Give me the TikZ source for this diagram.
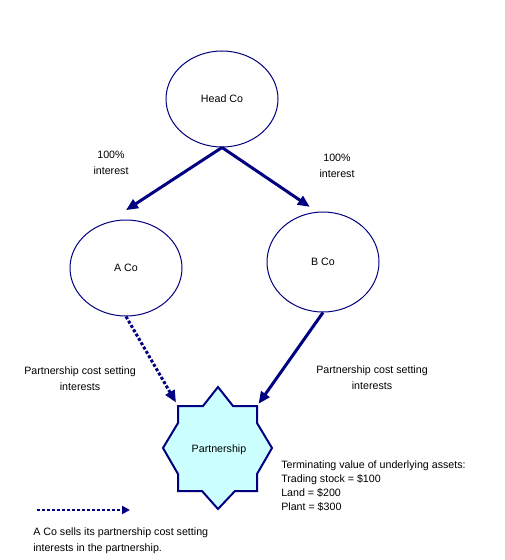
\documentclass[tikz,border=0pt]{standalone}
\usepackage{fontspec}
\setmainfont{Liberation Sans}
\usetikzlibrary{arrows.meta,shapes.geometric}
\definecolor{navy}{RGB}{0,0,128}
\definecolor{palecyan}{RGB}{204,255,255}

\begin{document}
\begin{tikzpicture}[x=0.75pt,y=-0.75pt,
  company/.style={ellipse,draw=navy,line width=0.75pt,minimum width=84pt,minimum height=72pt,
    inner sep=0pt,font=\fontsize{8}{10}\selectfont},
  own arrow/.style={navy,line width=2.25pt,-{Triangle[length=9pt,width=7.5pt]}},
  sell arrow/.style={own arrow,dash pattern=on 2.25pt off 1.5pt},
  lbl/.style={font=\fontsize{8}{12}\selectfont,align=center,inner sep=0pt}]

  \fill[white] (0,0) rectangle (505,560);
  \useasboundingbox (0,0) rectangle (505,560);

  % Companies
  \node[company] (head) at (222,99) {Head Co};
  \node[company] (aco) at (126,268) {A Co};
  \node[company,minimum height=75pt] (bco) at (323,262) {B Co};

  % Partnership star
  \filldraw[fill=palecyan,draw=navy,line width=1.5pt]
    (178,406) -- (203,406) -- (218,387) -- (233,406) -- (257,406) -- (257,423)
    -- (272,448) -- (257,474) -- (257,491) -- (235,491) -- (218,509) -- (202,491)
    -- (178,491) -- (178,474) -- (163,448) -- (178,423) -- cycle;
  \node[lbl] (part) at (219,450) {Partnership};
  \coordinate (part tl) at (178,406);
  \coordinate (part tr) at (257,406);

  % Ownership
  \draw[own arrow] (head.south) -- ([yshift=7pt]aco.north);
  \draw[own arrow] (head.south) -- ([yshift=4.5pt]bco.105);
  \node[lbl] (int a) at (111,163) {100\%\\interest};
  \node[lbl] (int b) at (337,166) {100\%\\interest};

  % Partnership interests
  \draw[sell arrow,shorten >=3pt] (aco.south) -- (part tl);
  \draw[own arrow,shorten >=2pt] (bco.south) -- (part tr);
  \node[lbl] (pcs a) at (80,379) {Partnership cost setting\\interests};
  \node[lbl] (pcs b) at (372,378) {Partnership cost setting\\interests};

  \node[lbl,align=left,anchor=west,font=\fontsize{8}{10.3}\selectfont] (assets) at (281,486)
    {Terminating value of underlying assets:\\Trading stock = \$100\\Land = \$200\\Plant = \$300};

  % Key
  \coordinate (key start) at (37,510);
  \coordinate (key end) at (130,510);
  \draw[sell arrow,line width=1.9pt,-{Triangle[length=6pt,width=6pt]}] (key start) -- (key end);
  \node[lbl,align=left,anchor=west] (key text) at (33,541)
    {A Co sells its partnership cost setting\\interests in the partnership.};

\end{tikzpicture}
\end{document}
